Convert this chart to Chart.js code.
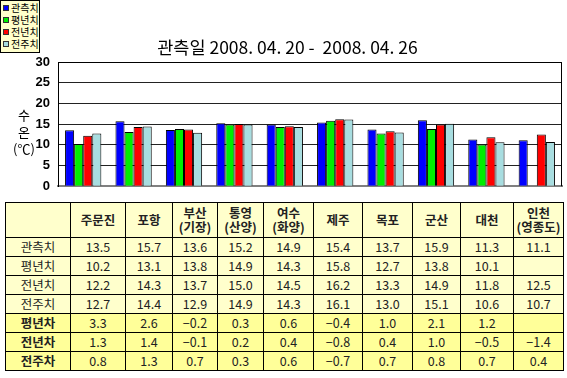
<!DOCTYPE html>
<html>
<head>
<meta charset="utf-8">
<script src="https://cdn.jsdelivr.net/npm/chart.js@4"></script>
<style>
    body { margin: 0; background: #fff; font-family: "Noto Sans CJK KR", sans-serif; }
    #wrap { position: relative; width: 567px; height: 378px; overflow: hidden; }
    #chartBox { position: absolute; left: 0; top: 0; width: 567px; height: 202px; }
    #legend { position: absolute; left: 0; top: 0; width: 38px; height: 50px; border: 1px solid #000;
        background: #ffffcc; font-size: 10px; line-height: 12px; padding-top: 1px; }
    #legend div { white-space: nowrap; padding-left: 2px; }
    #legend span { display: inline-block; width: 4px; height: 4px; border: 1px solid #333; margin-right: 2px; vertical-align: 1px; }
    #title { position: absolute; left: 0; width: 575px; top: 34px; text-align: center; font-size: 17.5px; }
    #yTitle { position: absolute; left: 9px; top: 106px; width: 30px; text-align: center; font-size: 13px; line-height: 17px; }
    table { position: absolute; left: 5px; top: 202px; border-collapse: collapse; table-layout: fixed; font-size: 12.5px; }
    td { border: 1px solid #000; text-align: center; padding: 0; height: 18px; line-height: 14px; background: #ffffcc; color: #222; }
    tr.head td { height: 34px; font-weight: bold; }
    tr.diff td { background: #ffff99; }
    tr.diff td:first-child { font-weight: bold; }
</style>
</head>
<body>
<div id="wrap">
    <div id="chartBox"><canvas id="myChart"></canvas></div>
    <div id="legend"></div>
    <div id="title">관측일 2008. 04. 20 -&nbsp; 2008. 04. 26</div>
    <div id="yTitle">수<br>온<br>(℃)</div>
    <table id="dataTable"></table>
</div>
<script>
const stations = ['주문진', '포항', '부산\n(기장)', '통영\n(산양)', '여수\n(화양)', '제주', '목포', '군산', '대천', '인천\n(영종도)'];
const observed = [13.5, 15.7, 13.6, 15.2, 14.9, 15.4, 13.7, 15.9, 11.3, 11.1];
const normalYear = [10.2, 13.1, 13.8, 14.9, 14.3, 15.8, 12.7, 13.8, 10.1, null];
const lastYear = [12.2, 14.3, 13.7, 15.0, 14.5, 16.2, 13.3, 14.9, 11.8, 12.5];
const lastWeek = [12.7, 14.4, 12.9, 14.9, 14.3, 16.1, 13.0, 15.1, 10.6, 10.7];
const diffNormal = [3.3, 2.6, -0.2, 0.3, 0.6, -0.4, 1.0, 2.1, 1.2, null];
const diffYear = [1.3, 1.4, -0.1, 0.2, 0.4, -0.8, 0.4, 1.0, -0.5, -1.4];
const diffWeek = [0.8, 1.3, 0.7, 0.3, 0.6, -0.7, 0.7, 0.8, 0.7, 0.4];
const yTicks = [0, 5, 10, 15, 20, 25, 30];

const seriesNames = ['관측치', '평년치', '전년치', '전주치'];
const seriesColors = ['#0000ff', '#00ee00', '#ff0000', '#a8dde0'];
const colWidths = [65, 55, 47, 45, 46, 50, 49, 50, 48, 53, 50];

function buildLegend()
{
    const box = document.getElementById('legend');
    seriesNames.forEach((name, i) => {
        const row = document.createElement('div');
        row.innerHTML = '<span style="background:' + seriesColors[i] + '"></span>' + name;
        box.appendChild(row);
    });
}

function fmt(v)
{
    if (v === null) return '';
    return v.toFixed(1).replace('-', '\u2212');
}

function buildTable()
{
    const table = document.getElementById('dataTable');
    let html = '<colgroup>' + colWidths.map(w => '<col style="width:' + w + 'px">').join('') + '</colgroup>';
    html += '<tr class="head"><td></td>' + stations.map(s => '<td>' + s.replace('\n', '<br>') + '</td>').join('') + '</tr>';
    const rows = [
        ['관측치', observed, ''], ['평년치', normalYear, ''], ['전년치', lastYear, ''], ['전주치', lastWeek, ''],
        ['평년차', diffNormal, 'diff'], ['전년차', diffYear, 'diff'], ['전주차', diffWeek, 'diff']
    ];
    rows.forEach(r => {
        html += '<tr class="' + r[2] + '"><td>' + r[0] + '</td>' + r[1].map(v => '<td>' + fmt(v) + '</td>').join('') + '</tr>';
    });
    table.innerHTML = html;
}

// frame around the plot area
const frame = {
    id: 'frame',
    afterDraw(chart) {
        const a = chart.chartArea;
        const ctx = chart.ctx;
        ctx.save();
        ctx.strokeStyle = '#000';
        ctx.lineWidth = 1;
        ctx.beginPath();
        ctx.moveTo(a.left, a.top + 0.5);
        ctx.lineTo(a.right - 0.5, a.top + 0.5);
        ctx.lineTo(a.right - 0.5, a.bottom);
        ctx.stroke();
        ctx.restore();
    }
};

function loadChart()
{
    const chartData = {
        labels: stations,
        datasets: [observed, normalYear, lastYear, lastWeek].map((data, i) => ({
            label: seriesNames[i],
            data: data,
            backgroundColor: seriesColors[i],
            borderColor: '#000',
            borderWidth: 1,
            barPercentage: 1,
            categoryPercentage: 0.72
        }))
    };
    const config = {
        type: 'bar',
        data: chartData,
        options: {
            responsive: true,
            maintainAspectRatio: false,
            animation: false,
            layout: { padding: { left: 0, right: 5, top: 62, bottom: 2 } },
            plugins: { legend: { display: false }, tooltip: { enabled: false } },
            scales: {
                x: {
                    ticks: { display: false },
                    grid: { display: false },
                    border: { color: '#808080', width: 2 }
                },
                y: {
                    min: 0,
                    max: 30,
                    afterBuildTicks: axis => { axis.ticks = yTicks.map(v => ({ value: v })); },
                    afterFit: axis => { axis.width = 58; },
                    ticks: { color: '#000', padding: 8, font: { family: 'Liberation Sans', size: 13, weight: 'bold' } },
                    grid: { color: '#222', drawTicks: false },
                    border: { color: '#000' }
                }
            }
        },
        plugins: [frame]
    };
    new Chart(document.getElementById('myChart').getContext('2d'), config);
}

buildLegend();
buildTable();
loadChart();
</script>
</body>
</html>
